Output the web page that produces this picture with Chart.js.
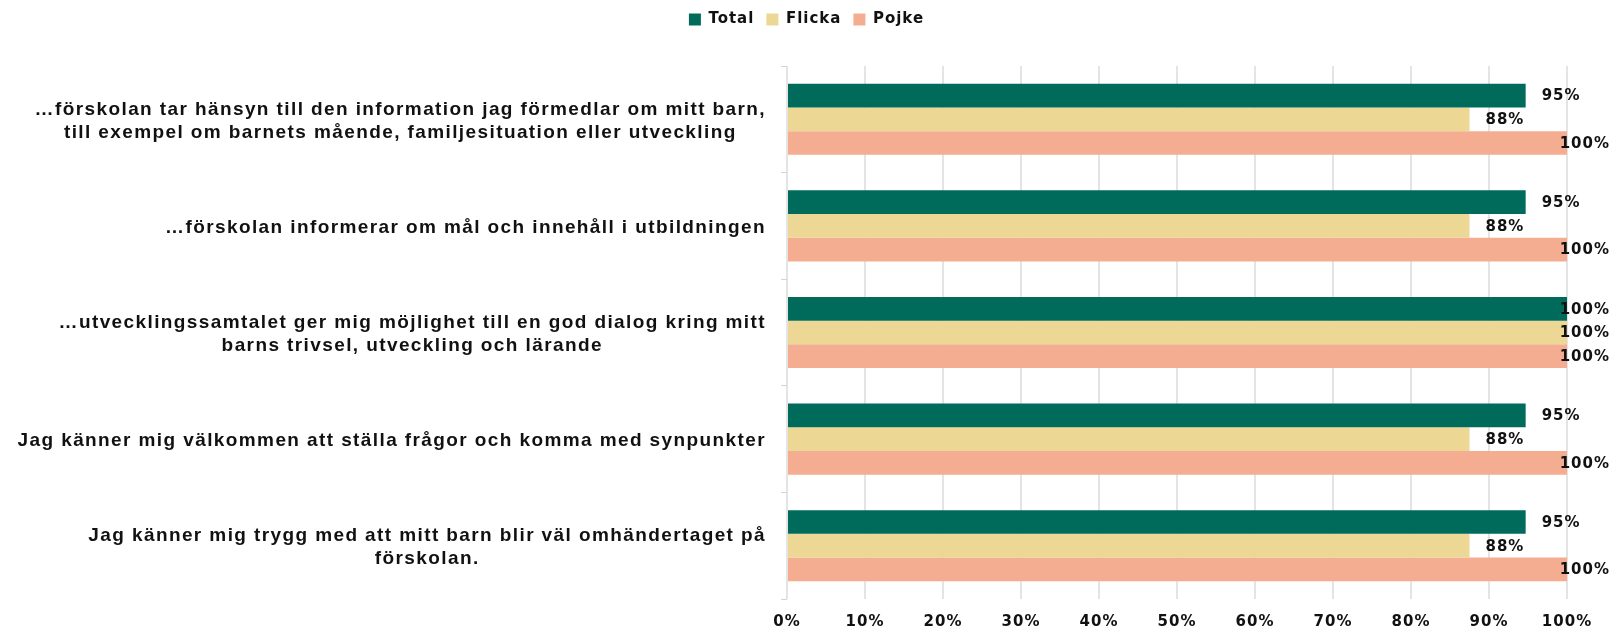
<!DOCTYPE html>
<html lang="sv">
<head>
<meta charset="utf-8">
<title>Förskola – enkät</title>
<script src="https://cdn.jsdelivr.net/npm/chart.js@4.4.1/dist/chart.umd.min.js"></script>
<style>
    body { margin: 0; background: #ffffff; }
    #wrap { width: 1613px; height: 630px; }
</style>
</head>
<body>
<div id="wrap"><canvas id="barChart" width="1613" height="630"></canvas></div>
<script>
// Frågorna (varje rad i etiketten är ett eget element)
const kategorier = [
    ["…förskolan tar hänsyn till den information jag förmedlar om mitt barn,", "till exempel om barnets mående, familjesituation eller utveckling"],
    ["…förskolan informerar om mål och innehåll i utbildningen"],
    ["…utvecklingssamtalet ger mig möjlighet till en god dialog kring mitt", "barns trivsel, utveckling och lärande"],
    ["Jag känner mig välkommen att ställa frågor och komma med synpunkter"],
    ["Jag känner mig trygg med att mitt barn blir väl omhändertaget på", "förskolan."]
];

// Andel positiva svar i procent
const total  = [94.7, 94.7, 100, 94.7, 94.7];
const flicka = [87.5, 87.5, 100, 87.5, 87.5];
const pojke  = [100, 100, 100, 100, 100];

const serieNamn = ["Total", "Flicka", "Pojke"];
const xTicks = [0, 10, 20, 30, 40, 50, 60, 70, 80, 90, 100];

const FONT_SIFFROR = "'DejaVu Sans', sans-serif";
const FONT_FRAGOR = "'Liberation Sans', Arial, sans-serif";
const TEXTFARG = '#111111';

// Bokstavsavstånd på all text som Chart.js ritar
const spacingPlugin = {
    id: 'spacing',
    beforeUpdate(chart) { chart.ctx.letterSpacing = '1px'; },
    beforeDraw(chart) { chart.ctx.letterSpacing = '1px'; }
};

// Legendens höjd styr var diagramytan börjar, och legenden centreras över hela bilden
const legendPlugin = {
    id: 'legendPlacering',
    beforeInit(chart) {
        const fit = chart.legend.fit;
        chart.legend.fit = function () {
            fit.call(this);
            this.height = 66;
        };
    },
    afterLayout(chart) {
        chart.legend.left = 0;
        chart.legend.right = chart.width;
        chart.legend.width = chart.width;
    }
};

// Frågetexterna: raderna centreras mot varandra, blocket högerställs mot axeln
const fragePlugin = {
    id: 'fragor',
    afterDraw(chart) {
        const ctx = chart.ctx;
        const y = chart.scales.y;
        const hoger = y.right - 21;
        const radHojd = 23;
        ctx.save();
        ctx.letterSpacing = '1.4px';
        ctx.font = "bold 19px " + FONT_FRAGOR;
        ctx.fillStyle = TEXTFARG;
        ctx.textAlign = 'center';
        ctx.textBaseline = 'middle';
        kategorier.forEach((rader, i) => {
            const mitt = y.getPixelForValue(i) + 2;
            const bredast = Math.max(...rader.map(r => ctx.measureText(r).width));
            const x = hoger - bredast / 2;
            const start = mitt - (rader.length - 1) * radHojd / 2;
            rader.forEach((rad, j) => ctx.fillText(rad, x, start + j * radHojd));
        });
        ctx.restore();
    }
};

// Värdeetiketter utanför staplarna (trycks in om de går utanför bilden)
const etikettPlugin = {
    id: 'etiketter',
    afterDatasetsDraw(chart) {
        const ctx = chart.ctx;
        ctx.save();
        ctx.letterSpacing = '1px';
        ctx.font = "bold 15px " + FONT_SIFFROR;
        ctx.fillStyle = TEXTFARG;
        ctx.textAlign = 'left';
        ctx.textBaseline = 'middle';
        chart.data.datasets.forEach((ds, d) => {
            chart.getDatasetMeta(d).data.forEach((bar, i) => {
                const text = Math.round(ds.data[i]) + '%';
                const w = ctx.measureText(text).width;
                const x = Math.min(bar.x + 16, chart.width - 3 - w);
                ctx.fillText(text, x, bar.y + 1);
            });
        });
        ctx.restore();
    }
};

const ctx = document.getElementById('barChart').getContext('2d');

new Chart(ctx, {
    type: 'bar',
    data: {
        labels: kategorier,
        datasets: [
            { label: serieNamn[0], data: total,  backgroundColor: '#006a5b' },
            { label: serieNamn[1], data: flicka, backgroundColor: '#ecd794' },
            { label: serieNamn[2], data: pojke,  backgroundColor: '#f5ad91' }
        ]
    },
    options: {
        indexAxis: 'y',
        responsive: false,
        animation: false,
        layout: { padding: { top: 0, right: 46, bottom: 0, left: 0 } },
        datasets: {
            bar: { categoryPercentage: 0.667, barPercentage: 1.0, borderWidth: 0 }
        },
        plugins: {
            tooltip: { enabled: false },
            legend: {
                position: 'top',
                labels: {
                    boxWidth: 12,
                    boxHeight: 12,
                    padding: 12,
                    color: TEXTFARG,
                    font: { family: FONT_SIFFROR, size: 15, weight: 'bold' }
                }
            }
        },
        scales: {
            x: {
                min: 0,
                max: 100,
                afterBuildTicks: (scale) => { scale.ticks = xTicks.map(v => ({ value: v })); },
                afterFit: (scale) => { scale.height = 31; },
                grid: { color: '#e4e4e4', lineWidth: 2, drawTicks: false },
                border: { display: false },
                ticks: {
                    padding: 14,
                    color: TEXTFARG,
                    font: { family: FONT_SIFFROR, size: 15, weight: 'bold' },
                    callback: (v) => v + '%'
                }
            },
            y: {
                afterFit: (scale) => { scale.width = 787; },
                grid: { drawOnChartArea: false, drawTicks: true, tickLength: 6, color: '#d4d4d4', lineWidth: 1 },
                border: { display: false },
                ticks: { display: false }
            }
        }
    },
    plugins: [spacingPlugin, legendPlugin, fragePlugin, etikettPlugin]
});
</script>
</body>
</html>
